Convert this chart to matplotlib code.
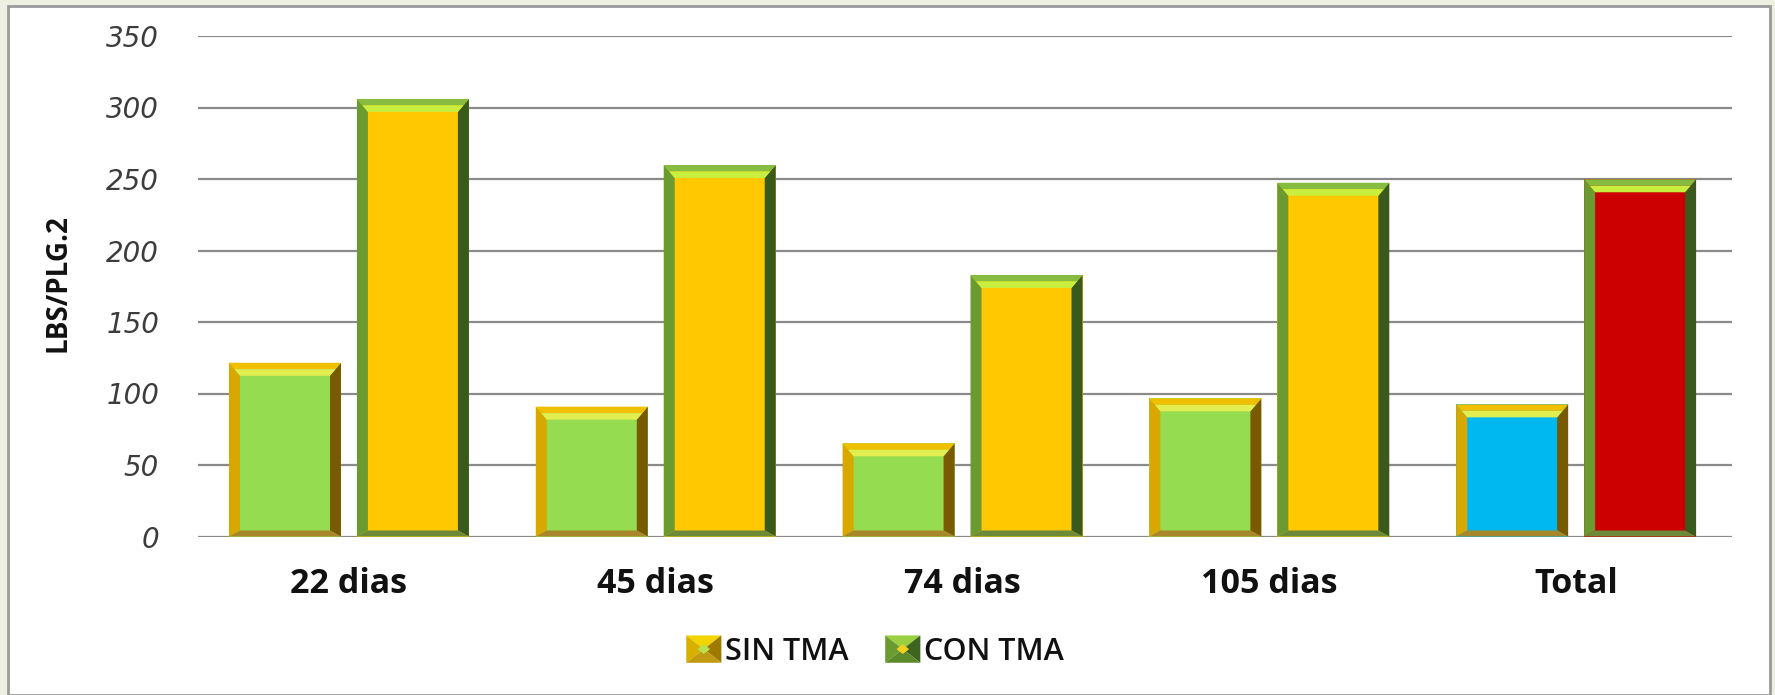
import matplotlib
matplotlib.use('Agg')
import matplotlib.pyplot as plt
from matplotlib.patches import Rectangle, Polygon
from matplotlib.legend_handler import HandlerBase
import numpy as np

categories = ['22 dias', '45 dias', '74 dias', '105 dias', 'Total']
sin_tma = [121.5, 90.8, 65.2, 96.6, 92.4]
con_tma = [306, 259.8, 182.9, 247.4, 249.8]
series_names = ['SIN TMA', 'CON TMA']
y_ticks = [0, 50, 100, 150, 200, 250, 300, 350]

# fill colours (the Total group uses its own)
sin_fill = ['#96dc50', '#96dc50', '#96dc50', '#96dc50', '#00b8f0']
con_fill = ['#ffc800', '#ffc800', '#ffc800', '#ffc800', '#cc0000']

# bevel colours: outer top, inner top, left, right, bottom
sin_bevel = ['#f0c000', '#e2ee50', '#d9a800', '#7a5a00', '#a8862a']
con_bevel = ['#86bc40', '#c8ee40', '#6a9a30', '#3a5a1c', '#6c8a3a']


def draw_bevel(ax, bar, colors, bx, bt, bb):
    x0 = bar.get_x()
    x1 = x0 + bar.get_width()
    h = bar.get_height()
    top_out, top_in, left, right, bottom = colors
    half = bt / 2
    polys = [
        ([(x0, 0), (x0, h), (x0 + bx, h - bt), (x0 + bx, bb)], left),
        ([(x1, 0), (x1, h), (x1 - bx, h - bt), (x1 - bx, bb)], right),
        ([(x0, 0), (x1, 0), (x1 - bx, bb), (x0 + bx, bb)], bottom),
        ([(x0, h), (x1, h), (x1 - bx / 2, h - half), (x0 + bx / 2, h - half)], top_out),
        ([(x0 + bx / 2, h - half), (x1 - bx / 2, h - half), (x1 - bx, h - bt), (x0 + bx, h - bt)], top_in),
    ]
    for pts, c in polys:
        ax.add_patch(Polygon(pts, closed=True, facecolor=c, edgecolor='none', zorder=3))


class BevelHandler(HandlerBase):
    def __init__(self, side, center):
        super().__init__()
        self.side = side
        self.center = center

    def create_artists(self, legend, orig_handle, xdescent, ydescent, width, height, fontsize, trans):
        x0, y0 = -xdescent, -ydescent
        x1, y1 = x0 + width, y0 + height
        cx, cy = (x0 + x1) / 2, (y0 + y1) / 2
        top, left, right, bottom = self.side
        arts = []
        for pts, c in [
            ([(x0, y1), (x1, y1), (cx, cy)], top),
            ([(x0, y0), (x0, y1), (cx, cy)], left),
            ([(x1, y0), (x1, y1), (cx, cy)], right),
            ([(x0, y0), (x1, y0), (cx, cy)], bottom),
        ]:
            arts.append(Polygon(pts, closed=True, facecolor=c, edgecolor='none', transform=trans))
        dx, dy = width * 0.18, height * 0.18
        arts.append(Polygon([(cx - dx, cy), (cx, cy + dy), (cx + dx, cy), (cx, cy - dy)],
                            closed=True, facecolor=self.center, edgecolor='none', transform=trans))
        return arts


fig = plt.figure(figsize=(17.75, 6.95), dpi=100)
fig.patch.set_facecolor('#edf0e1')
fig.patches.append(Rectangle((8 / 1775, 0), 1762 / 1775, 1 - 6 / 695, transform=fig.transFigure,
                             facecolor='white', edgecolor='#9a9a9a', linewidth=2, zorder=-10))

ax = fig.add_axes([198 / 1775, 1 - 536.5 / 695, 1534 / 1775, 500.5 / 695])
ax.set_facecolor('none')

x = np.arange(len(categories))
bar_width = 0.365
offset = 0.2085

ax.set_xlim(-0.492, 4.508)
ax.set_ylim(0, 350)

# bevel sizes in data units (from pixel sizes)
px_x = 1534 / 5.0
px_y = 500.5 / 350.0
bx = 11 / px_x
bt = 13 / px_y
bb = 6 / px_y

bars_sin = ax.bar(x - offset, sin_tma, bar_width, color=sin_fill, zorder=2)
bars_con = ax.bar(x + offset, con_tma, bar_width, color=con_fill, zorder=2)
for b in bars_sin:
    draw_bevel(ax, b, sin_bevel, bx, bt, bb)
for b in bars_con:
    draw_bevel(ax, b, con_bevel, bx, bt, bb)

ax.set_yticks(y_ticks)
ax.set_yticklabels([str(v) for v in y_ticks], fontsize=20, fontstyle='italic', color='#3c3c3c',
                   family='DejaVu Sans')
ax.yaxis.grid(True, color='#8a8a8a', linewidth=1.6, zorder=1)
ax.set_axisbelow(True)
ax.tick_params(axis='y', length=0, pad=28)
ax.set_xticks(x)
ax.set_xticklabels(categories, fontsize=24.5, fontweight='bold', family='Open Sans', color='#111111')
ax.tick_params(axis='x', length=0, pad=22)
for s in ax.spines.values():
    s.set_visible(False)

ax.set_ylabel('LBS/PLG.2', fontsize=20, fontweight='bold', family='Open Sans', color='#111111')
ax.yaxis.set_label_coords(-125 / 1534, (536.5 - 283) / 500.5)

h_sin = Rectangle((0, 0), 1, 1)
h_con = Rectangle((0, 0), 1, 1)
leg = fig.legend([h_sin, h_con], series_names, loc='center', bbox_to_anchor=(875 / 1775, 1 - 651 / 695),
                 ncol=2, frameon=False, handlelength=1.15, handleheight=1.0, handletextpad=0.12,
                 columnspacing=1.2,
                 prop={'family': 'Open Sans', 'size': 22, 'weight': 'semibold'},
                 handler_map={h_sin: BevelHandler(['#f4d400', '#d8b000', '#a07a00', '#c09a10'], '#b8e050'),
                              h_con: BevelHandler(['#9ad040', '#6a9a30', '#3e6420', '#5a8a2a'], '#f0d020')})
for t in leg.get_texts():
    t.set_color('#111111')

fig.savefig('out.png', dpi=100, facecolor=fig.get_facecolor())
